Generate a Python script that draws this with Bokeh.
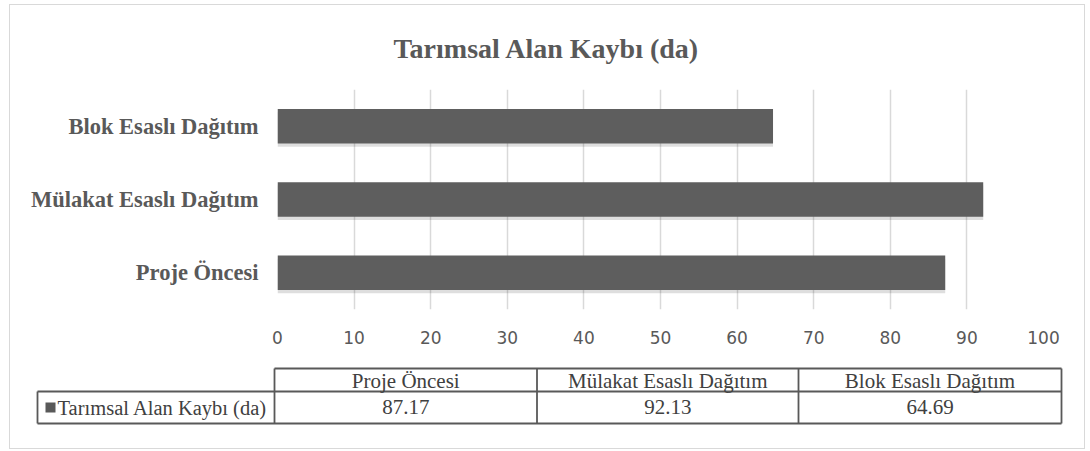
from bokeh.plotting import figure
from bokeh.models import FactorRange, Range1d, FixedTicker, ColumnDataSource
from bokeh.transform import dodge
from bokeh.core.properties import value
from bokeh.embed import file_html
from bokeh.resources import INLINE

# ---- data ----
categories = ["Proje Öncesi", "Mülakat Esaslı Dağıtım", "Blok Esaslı Dağıtım"]
values = [87.17, 92.13, 64.69]
series_name = "Tarımsal Alan Kaybı (da)"
title_text = "Tarımsal Alan Kaybı (da)"
x_ticks = [0, 10, 20, 30, 40, 50, 60, 70, 80, 90, 100]

GRAY = "#595959"
TEXT = "#404040"
BORDER = "#d9d9d9"
LEFT, RIGHT, TOP, SPLIT, BOTTOM = 9, 1085, 4, 358, 449
W = RIGHT - LEFT

# ---- top chart ----
src = ColumnDataSource(dict(cat=categories, val=values))
p = figure(width=W, height=SPLIT - TOP, output_backend="svg", toolbar_location=None,
           y_range=FactorRange(factors=categories, range_padding=0),
           x_range=Range1d(0, 100),
           min_border_left=277 - LEFT, min_border_right=RIGHT - 1043,
           min_border_top=89 - TOP, min_border_bottom=SPLIT - 309,
           styles={"margin-left": f"{LEFT}px", "margin-top": f"{TOP}px", "vertical-align": "top",
                   "box-shadow": f"inset 1px 1px 0 0 {BORDER}, inset -1px 0 0 0 {BORDER}"})
p.background_fill_color = None
p.border_fill_color = None
p.outline_line_color = None

p.title.text = title_text
p.title.align = "left"
p.title.offset = 116
p.title.standoff = 51
p.title.text_line_height = 0.9
p.title.text_font = "Liberation Serif"
p.title.text_font_style = "bold"
p.title.text_font_size = "28px"
p.title.text_color = GRAY

p.hbar(y=dodge("cat", -0.045, range=p.y_range), right="val", left=0, height=0.47, source=src,
       fill_color="#000000", fill_alpha=0.13, line_color=None)
p.hbar(y="cat", right="val", left=0, height=0.47, source=src,
       fill_color="#5e5e5e", line_color=None)

p.xgrid.grid_line_color = BORDER
p.xgrid.grid_line_width = 1.5
p.xgrid.ticker = FixedTicker(ticks=x_ticks)
p.ygrid.grid_line_color = None

p.xaxis.ticker = FixedTicker(ticks=x_ticks)
p.xaxis.axis_line_color = None
p.xaxis.major_tick_line_color = None
p.xaxis.minor_tick_line_color = None
p.xaxis.major_tick_out = 0
p.xaxis.major_tick_in = 0
p.xaxis.major_label_standoff = 21
p.xaxis.major_label_text_font = "DejaVu Sans"
p.xaxis.major_label_text_font_size = "17px"
p.xaxis.major_label_text_color = GRAY

p.yaxis.axis_line_color = None
p.yaxis.major_tick_line_color = None
p.yaxis.minor_tick_line_color = None
p.yaxis.major_tick_out = 0
p.yaxis.major_tick_in = 0
p.yaxis.major_label_standoff = 19
p.yaxis.major_label_text_font = "Liberation Serif"
p.yaxis.major_label_text_font_style = "bold"
p.yaxis.major_label_text_font_size = "22.5px"
p.yaxis.major_label_text_color = GRAY

# ---- data table below ----
t = figure(width=W, height=BOTTOM - SPLIT, output_backend="svg", toolbar_location=None,
           x_range=Range1d(LEFT, RIGHT), y_range=Range1d(BOTTOM, SPLIT),
           x_axis_type=None, y_axis_type=None,
           min_border_left=0, min_border_right=0, min_border_top=0, min_border_bottom=0,
           styles={"margin-left": f"{LEFT}px", "vertical-align": "top",
                   "box-shadow": f"inset 1px -1px 0 0 {BORDER}, inset -1px 0 0 0 {BORDER}"})
t.background_fill_color = None
t.border_fill_color = None
t.outline_line_color = None
t.grid.grid_line_color = None

col_x = [274, 536.5, 798, 1061]
legend_left = 37
y_top, y_mid, y_bot = 368, 391, 423

xs0 = [col_x[0], legend_left, legend_left, legend_left] + col_x
ys0 = [y_top, y_mid, y_bot, y_mid] + [y_top] * len(col_x)
xs1 = [col_x[-1], col_x[-1], col_x[-1], legend_left] + col_x
ys1 = [y_top, y_mid, y_bot, y_bot] + [y_bot] * len(col_x)
t.segment(x0=xs0, y0=ys0, x1=xs1, y1=ys1, line_color=GRAY, line_width=1.8)

centers = [(col_x[i] + col_x[i + 1]) / 2 for i in range(len(categories))]
t.text(x=centers, y=[(y_top + y_mid) / 2 + 1] * len(categories), text=categories,
       text_align="center", text_baseline="middle", text_font=value("Liberation Serif"),
       text_font_size="21px", text_color=TEXT)
t.text(x=centers, y=[(y_mid + y_bot) / 2 - 1] * len(values), text=[f"{v:.2f}" for v in values],
       text_align="center", text_baseline="middle", text_font=value("Liberation Serif"),
       text_font_size="21px", text_color=TEXT)
t.rect(x=[50], y=[407], width=10, height=10, width_units="screen", height_units="screen",
       fill_color=GRAY, line_color=None)
t.text(x=[57], y=[(y_mid + y_bot) / 2], text=[series_name], text_align="left", text_baseline="middle",
       text_font=value("Liberation Serif"), text_font_size="20.5px", text_color=TEXT)

open("out.html", "w").write(file_html([p, t], INLINE))
